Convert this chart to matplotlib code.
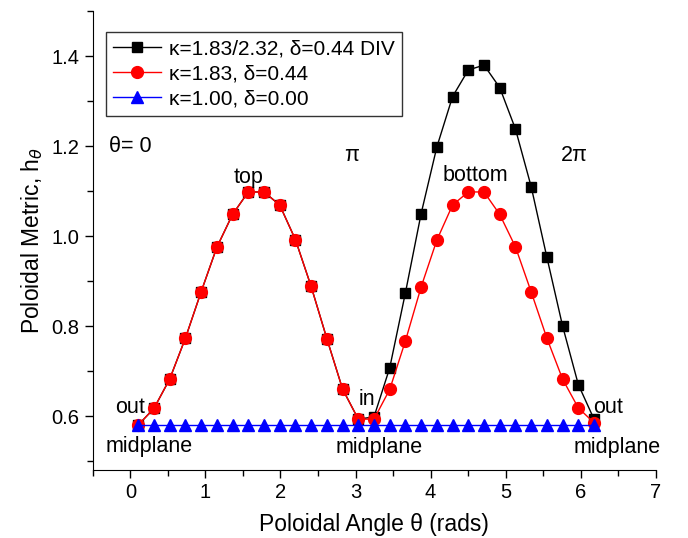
import numpy as np
import matplotlib.pyplot as plt
from matplotlib.ticker import MultipleLocator

plt.rcParams["font.family"] = ["Liberation Sans", "DejaVu Sans"]

# 30 poloidal angles, cell centred
N_POINTS = 30
theta = (np.arange(N_POINTS) + 0.5) * 2 * np.pi / N_POINTS

# kappa=1.83, delta=0.44
h_red = [0.580, 0.617, 0.682, 0.773, 0.876, 0.975, 1.048, 1.098, 1.098, 1.069,
         0.992, 0.888, 0.772, 0.660, 0.593,
         0.593, 0.659, 0.767, 0.887, 0.991, 1.069, 1.098, 1.098, 1.048, 0.976,
         0.876, 0.773, 0.682, 0.618, 0.585]

# kappa=1.83/2.32 divertor: top half same as red, bottom half stretched
h_black = h_red[:15] + [0.598, 0.707, 0.874, 1.050, 1.198, 1.310, 1.369, 1.380,
                        1.330, 1.238, 1.110, 0.953, 0.800, 0.670, 0.593]

# circular case
h_blue = [0.580] * N_POINTS

labels = ["κ=1.83/2.32, δ=0.44 DIV", "κ=1.83, δ=0.44", "κ=1.00, δ=0.00"]

fig = plt.figure(figsize=(6.88, 5.38), dpi=100)
ax = fig.add_axes([0.135, 0.1264, 0.818, 0.853])

ax.plot(theta, h_black, color="black", lw=1, marker="s", ms=7.5, label=labels[0])
ax.plot(theta, h_red, color="red", lw=1, marker="o", ms=8.5, label=labels[1])
ax.plot(theta, h_blue, color="blue", lw=1, marker="^", ms=8.5, label=labels[2])

ax.set_xlim(-0.5, 7)
ax.set_ylim(0.48, 1.5)
ax.xaxis.set_major_locator(MultipleLocator(1))
ax.xaxis.set_minor_locator(MultipleLocator(0.5))
ax.yaxis.set_major_locator(MultipleLocator(0.2))
ax.yaxis.set_minor_locator(MultipleLocator(0.1))
ax.yaxis.set_major_formatter(plt.FuncFormatter(lambda v, p: f"{v:.1f}"))
ax.tick_params(which="both", direction="out", labelsize=14.5, width=1)
ax.tick_params(which="major", length=6)
ax.tick_params(which="minor", length=4)
ax.spines["top"].set_visible(False)
ax.spines["right"].set_visible(False)

ax.set_xlabel("Poloidal Angle θ (rads)", fontsize=16.5, labelpad=8)
ax.set_ylabel(r"Poloidal Metric, h$_\theta$", fontsize=16.5, labelpad=5)

# annotations
fs = 15.5
ax.text(0.0, 1.198, "θ= 0", fontsize=fs, ha="center", va="center")
ax.text(2.95, 1.18, "π", fontsize=fs, ha="center", va="center")
ax.text(5.92, 1.18, "2π", fontsize=fs, ha="center", va="center")
ax.text(1.57, 1.13, "top", fontsize=fs, ha="center", va="center")
ax.text(4.6, 1.135, "bottom", fontsize=fs, ha="center", va="center")
ax.text(3.15, 0.636, "in", fontsize=fs, ha="center", va="center")
ax.text(-0.01, 0.62, "out", fontsize=fs, ha="center", va="center")
ax.text(6.37, 0.62, "out", fontsize=fs, ha="center", va="center")
ax.text(0.25, 0.532, "midplane", fontsize=fs, ha="center", va="center")
ax.text(3.31, 0.529, "midplane", fontsize=fs, ha="center", va="center")
ax.text(6.48, 0.529, "midplane", fontsize=fs, ha="center", va="center")

leg = ax.legend(loc="upper left", bbox_to_anchor=(0.023, 0.955), fontsize=15,
                frameon=True, fancybox=False, edgecolor="black",
                handlelength=2.3, borderpad=0.35, labelspacing=0.3,
                handletextpad=0.4, borderaxespad=0)
leg.get_frame().set_linewidth(1)

fig.savefig("out.png", dpi=100)
